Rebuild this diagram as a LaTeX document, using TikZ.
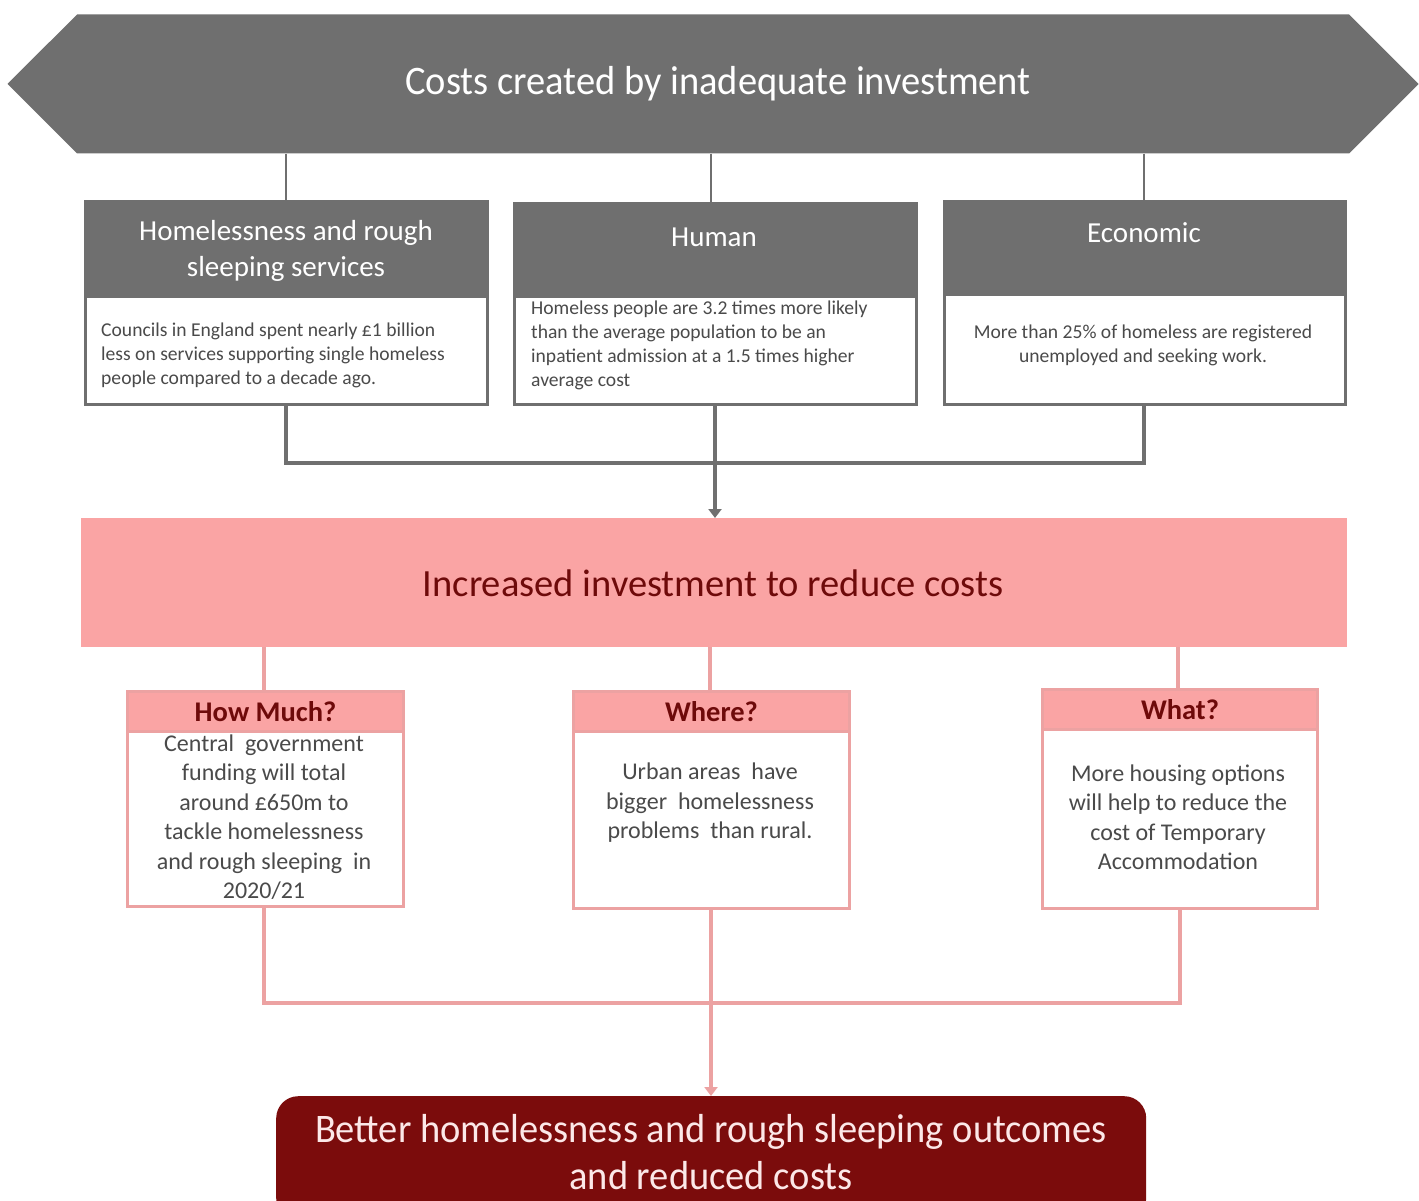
\documentclass[tikz,border=0pt]{standalone}
\usepackage{fontspec}
\setmainfont{Carlito}
\newfontfamily\condfont[FakeStretch=0.95]{Carlito}
\usetikzlibrary{shapes.symbols,arrows.meta}
\definecolor{cgray}{HTML}{6F6F6F}
\definecolor{cpink}{HTML}{FAA4A4}
\definecolor{cpinkline}{HTML}{ECA2A2}
\definecolor{cdred}{HTML}{6E0A0A}
\definecolor{cbot}{HTML}{7B0C0C}
\definecolor{cbottext}{HTML}{FCE8E8}
\definecolor{ctext}{HTML}{4A4A4A}
\begin{document}
\begin{tikzpicture}[x=1pt,y=-1pt,
  graybox/.style={draw=cgray,line width=3pt,fill=white,inner sep=0pt,anchor=north west},
  grayhdr/.style={draw=cgray,line width=3pt,fill=cgray,inner sep=0pt,anchor=north west},
  hdrtxt/.style={text=white,font=\fontsize{29}{36}\selectfont,align=center},
  pinkbox/.style={draw=cpinkline,line width=3pt,fill=white,inner sep=0pt,anchor=north west},
  pinkhdr/.style={draw=cpinkline,line width=3pt,fill=cpink,inner sep=0pt,anchor=north west,text=cdred,
     font=\fontsize{28.5}{30}\selectfont\bfseries},
  smalltxt/.style={text=ctext,font=\fontsize{19.6}{24}\selectfont,inner sep=0pt},
  midtxt/.style={text=ctext,font=\fontsize{24}{29.5}\selectfont,inner sep=0pt,align=center},
  grayline/.style={draw=cgray,line width=4pt},
  thinline/.style={draw=cgray,line width=1.2pt},
  pinkline/.style={draw=cpinkline,line width=3.5pt},
]
\clip (0,0) rectangle (1419,1201);
\fill[white] (0,0) rectangle (1419,1201);

% top banner
\node[signal,signal to=west and east,signal pointer angle=90,fill=cgray,
  minimum width=1411pt,minimum height=139pt,inner sep=0pt] (top) at (713,84) {};
\node[text=white,font=\condfont\fontsize{40.5}{44}\selectfont] (toptxt) at (718,84) {Costs created by inadequate investment};

% grey boxes
\node[graybox,minimum width=402pt,minimum height=108pt] (b1) at (84,295) {};
\node[grayhdr,minimum width=402pt,minimum height=95pt] (h1) at (84,200) {};
\node[hdrtxt] (h1t) at (286,251) {Homelessness and rough\\sleeping services};
\node[smalltxt,align=left,anchor=west] (t1) at (101,355) {Councils in England spent nearly £1 billion\\less on services supporting single homeless\\people compared to a decade ago.};

\node[graybox,minimum width=402pt,minimum height=108pt] (b2) at (513,295) {};
\node[grayhdr,minimum width=402pt,minimum height=93pt] (h2) at (513,202) {};
\node[hdrtxt] (h2t) at (714,237) {Human};
\node[smalltxt,align=left,anchor=west] (t2) at (531,345) {Homeless people are 3.2 times more likely\\than the average population to be an\\inpatient admission at a 1.5 times higher\\average cost};

\node[graybox,minimum width=401pt,minimum height=110pt] (b3) at (943,293) {};
\node[grayhdr,minimum width=401pt,minimum height=93pt] (h3) at (943,200) {};
\node[hdrtxt] (h3t) at (1144,233) {Economic};
\node[smalltxt,align=center] (t3) at (1143,345) {More than 25\% of homeless are registered\\unemployed and seeking work.};

% connectors from banner
\draw[thinline] (top.south -| 286,0) -- (h1.north -| 286,0);
\draw[thinline] (top.south -| 711,0) -- (h2.north -| 711,0);
\draw[thinline] (top.south -| 1144,0) -- (h3.north -| 1144,0);

% pink banner
\node[fill=cpink,minimum width=1266pt,minimum height=129pt,anchor=north west,inner sep=0pt] (mid) at (81,518) {};
\node[text=cdred,font=\fontsize{38.5}{40}\selectfont] (midtxt) at (713,583) {Increased investment to reduce costs};

% grey merge connectors
\draw[grayline] (b1.south -| 286,0) -- (286,463) -- (1144,463) -- (b3.south -| 1144,0);
\draw[grayline,-{Triangle[width=13pt,length=9pt]}] (b2.south -| 715,0) -- (mid.north -| 715,0);

% pink boxes
\node[pinkbox,minimum width=276pt,minimum height=175pt] (pa) at (126,730) {};
\node[pinkhdr,minimum width=276pt,minimum height=40pt] (ha) at (126,690) {How Much?};
\node[midtxt] (ta) at (264,817) {Central\ \ government\\funding will total\\around £650m to\\tackle homelessness\\and rough sleeping\ \ in\\2020/21};

\node[pinkbox,minimum width=276pt,minimum height=177pt] (pb) at (572,730) {};
\node[pinkhdr,minimum width=276pt,minimum height=40pt] (hb) at (572,690) {Where?};
\node[midtxt] (tb) at (710,803) {Urban areas\ \ have\\bigger\ \ homelessness\\problems\ \ than rural.};

\node[pinkbox,minimum width=275pt,minimum height=179pt] (pc) at (1041,728) {};
\node[pinkhdr,minimum width=275pt,minimum height=40pt] (hc) at (1041,688) {What?};
\node[midtxt] (tc) at (1178,817) {More housing options\\will help to reduce the\\cost of Temporary\\Accommodation};

\draw[pinkline] (mid.south -| 264,0) -- (ha.north -| 264,0);
\draw[pinkline] (mid.south -| 710,0) -- (hb.north -| 710,0);
\draw[pinkline] (mid.south -| 1178,0) -- (hc.north -| 1178,0);

% bottom box
\node[fill=cbot,rounded corners=22pt,minimum width=870pt,minimum height=124pt,anchor=north west,inner sep=0pt] (bot) at (276,1096) {};
\node[text=cbottext,font=\condfont\fontsize{40.5}{47}\selectfont,align=center] (bottxt) at (711,1152) {Better homelessness and rough sleeping outcomes\\and reduced costs};

\draw[pinkline] (pa.south -| 264,0) -- (264,1003) -- (1180,1003) -- (pc.south -| 1180,0);
\draw[pinkline,-{Triangle[width=13pt,length=9pt]}] (pb.south -| 711,0) -- (bot.north -| 711,0);
\end{tikzpicture}
\end{document}
